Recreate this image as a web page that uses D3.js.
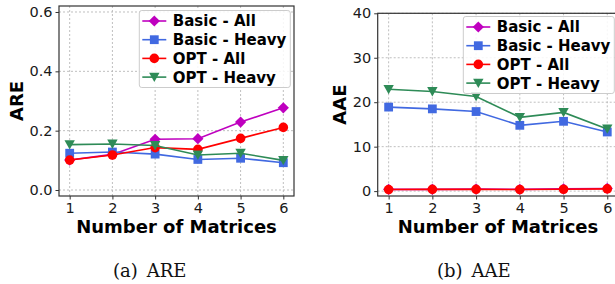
<!DOCTYPE html>
<html>
<head>
<meta charset="utf-8">
<script src="https://cdnjs.cloudflare.com/ajax/libs/d3/7.8.5/d3.min.js"></script>
<style>
  body { margin: 0; background: #fff; }
  svg { display: block; }
  .tick text { font-family: "DejaVu Sans", sans-serif; font-size: 14.5px; fill: #1a1a1a; }
  .axis-title { font-family: "DejaVu Sans", sans-serif; font-size: 18px; font-weight: bold; fill: #000; }
  .legend-text { font-family: "DejaVu Sans", sans-serif; font-size: 15px; font-weight: bold; fill: #000; }
  .caption { font-family: "DejaVu Serif", serif; font-size: 18px; fill: #111; }
</style>
</head>
<body>
<div id="chart"></div>
<script>
//Data
const matrices = [1, 2, 3, 4, 5, 6];
const seriesNames = ["Basic - All", "Basic - Heavy", "OPT - All", "OPT - Heavy"];

const areBasicAll   = [0.101, 0.120, 0.171, 0.173, 0.229, 0.277];
const areBasicHeavy = [0.124, 0.128, 0.121, 0.103, 0.107, 0.092];
const areOptAll     = [0.101, 0.118, 0.143, 0.137, 0.174, 0.211];
const areOptHeavy   = [0.153, 0.155, 0.150, 0.118, 0.124, 0.100];
const areTicks = [0.0, 0.2, 0.4, 0.6];

const aaeBasicAll   = [0.40, 0.40, 0.45, 0.40, 0.50, 0.60];
const aaeBasicHeavy = [18.9, 18.5, 17.9, 14.8, 15.7, 13.3];
const aaeOptAll     = [0.35, 0.38, 0.40, 0.36, 0.42, 0.50];
const aaeOptHeavy   = [22.9, 22.4, 21.3, 16.6, 17.7, 14.0];
const aaeTicks = [0, 10, 20, 30, 40];

//Styles for each series
const colors = ["#bf00bf", "#4169e1", "#ff0000", "#2e8b57"];

//Marker shapes (matplotlib D, s, o, v)
const symDiamond = { draw(ctx, s) { ctx.moveTo(0, -s); ctx.lineTo(s, 0); ctx.lineTo(0, s); ctx.lineTo(-s, 0); ctx.closePath(); } };
const symSquare  = { draw(ctx, s) { ctx.rect(-s, -s, 2 * s, 2 * s); } };
const symCircle  = { draw(ctx, s) { ctx.moveTo(s, 0); ctx.arc(0, 0, s, 0, 2 * Math.PI); } };
const symTriDown = { draw(ctx, s) { ctx.moveTo(-s, -s * 0.85); ctx.lineTo(s, -s * 0.85); ctx.lineTo(0, s * 0.95); ctx.closePath(); } };
const symbols = [d3.symbol(symDiamond, 5.6)(), d3.symbol(symSquare, 4.4)(), d3.symbol(symCircle, 4.8)(), d3.symbol(symTriDown, 5.2)()];

const svg = d3.select("#chart")
              .append("svg")
               .attr("width", 615)
               .attr("height", 284);

function drawPanel(p) {
    const g = svg.append("g");

    //Scales
    const x = d3.scaleLinear().domain([0.75, 6.25]).range([p.left, p.right]);
    const y = d3.scaleLinear().domain(p.yDomain).range([p.bottom, p.top]);

    //Grid
    g.append("g")
     .selectAll("line")
     .data(matrices)
     .enter().append("line")
      .attr("x1", d => x(d)).attr("x2", d => x(d))
      .attr("y1", p.top).attr("y2", p.bottom)
      .attr("stroke", "#b8b8b8")
      .attr("stroke-width", 0.9)
      .attr("stroke-dasharray", "2,2");
    g.append("g")
     .selectAll("line")
     .data(p.ticks)
     .enter().append("line")
      .attr("x1", p.left).attr("x2", p.right)
      .attr("y1", d => y(d)).attr("y2", d => y(d))
      .attr("stroke", "#b8b8b8")
      .attr("stroke-width", 0.9)
      .attr("stroke-dasharray", "2,2");

    //Lines and markers
    const line = d3.line()
                   .x((d, i) => x(matrices[i]))
                   .y(d => y(d));
    p.series.forEach(function(values, k) {
        g.append("path")
         .datum(values)
         .attr("d", line)
         .attr("fill", "none")
         .attr("stroke", colors[k])
         .attr("stroke-width", 1.6);
        g.append("g")
         .selectAll("path")
         .data(values)
         .enter().append("path")
          .attr("d", symbols[k])
          .attr("transform", (d, i) => "translate(" + x(matrices[i]) + "," + y(d) + ")")
          .attr("fill", colors[k]);
    });

    //Axes
    const xAxis = d3.axisBottom(x).tickValues(matrices).tickFormat(d3.format("d")).tickSize(3.5).tickPadding(3);
    const yAxis = d3.axisLeft(y).tickValues(p.ticks).tickFormat(p.format).tickSize(3.5).tickPadding(3);
    const gx = g.append("g")
                .attr("transform", "translate(0," + p.bottom + ")")
                .call(xAxis);
    const gy = g.append("g")
                .attr("transform", "translate(" + p.left + ",0)")
                .call(yAxis);
    [gx, gy].forEach(function(a) {
        a.select(".domain").remove();
        a.selectAll(".tick line").attr("stroke", "#333").attr("stroke-width", 1);
    });

    //Frame
    g.append("rect")
     .attr("x", p.left).attr("y", p.top)
     .attr("width", p.right - p.left)
     .attr("height", p.bottom - p.top)
     .attr("fill", "none")
     .attr("stroke", "#333")
     .attr("stroke-width", 1.2);

    //Axis titles
    g.append("text")
     .attr("class", "axis-title")
     .attr("text-anchor", "middle")
     .attr("x", (p.left + p.right) / 2)
     .attr("y", 233)
     .text("Number of Matrices");
    g.append("text")
     .attr("class", "axis-title")
     .attr("text-anchor", "middle")
     .attr("transform", "translate(" + p.yLabelX + "," + (p.top + p.bottom) / 2 + ") rotate(-90)")
     .attr("dy", "0.36em")
     .text(p.yLabel);

    //Legend
    const lg = g.append("g")
                .attr("transform", "translate(" + p.legendX + "," + p.legendY + ")");
    lg.append("rect")
      .attr("width", 151)
      .attr("height", 77)
      .attr("rx", 2.5)
      .attr("fill", "#fff")
      .attr("fill-opacity", 0.85)
      .attr("stroke", "#cccccc")
      .attr("stroke-width", 1);
    seriesNames.forEach(function(name, k) {
        const ry = 10.5 + k * 18.7;
        lg.append("line")
          .attr("x1", 3).attr("x2", 27)
          .attr("y1", ry).attr("y2", ry)
          .attr("stroke", colors[k])
          .attr("stroke-width", 1.6);
        lg.append("path")
          .attr("d", symbols[k])
          .attr("transform", "translate(15," + ry + ")")
          .attr("fill", colors[k]);
        lg.append("text")
          .attr("class", "legend-text")
          .attr("x", 33.5)
          .attr("y", ry + 5.4)
          .text(name);
    });

    //Caption
    const cap = svg.append("text")
                   .attr("class", "caption")
                   .attr("x", p.captionX)
                   .attr("y", 277);
    cap.append("tspan").text(p.caption[0]);
    cap.append("tspan").attr("dx", 9).text(p.caption[1]);
}

drawPanel({
    left: 59, right: 294, top: 6, bottom: 196,
    yDomain: [-0.0202, 0.6202], ticks: areTicks, format: d3.format(".1f"),
    series: [areBasicAll, areBasicHeavy, areOptAll, areOptHeavy],
    yLabel: "ARE", yLabelX: 17,
    legendX: 139.3, legendY: 10.5,
    caption: ["(a)", "ARE"], captionX: 113
});

drawPanel({
    left: 377.7, right: 618.2, top: 13.3, bottom: 196,
    yDomain: [-1.1, 40], ticks: aaeTicks, format: d3.format("d"),
    series: [aaeBasicAll, aaeBasicHeavy, aaeOptAll, aaeOptHeavy],
    yLabel: "AAE", yLabelX: 340,
    legendX: 463.3, legendY: 16.5,
    caption: ["(b)", "AAE"], captionX: 437
});
</script>
</body>
</html>
